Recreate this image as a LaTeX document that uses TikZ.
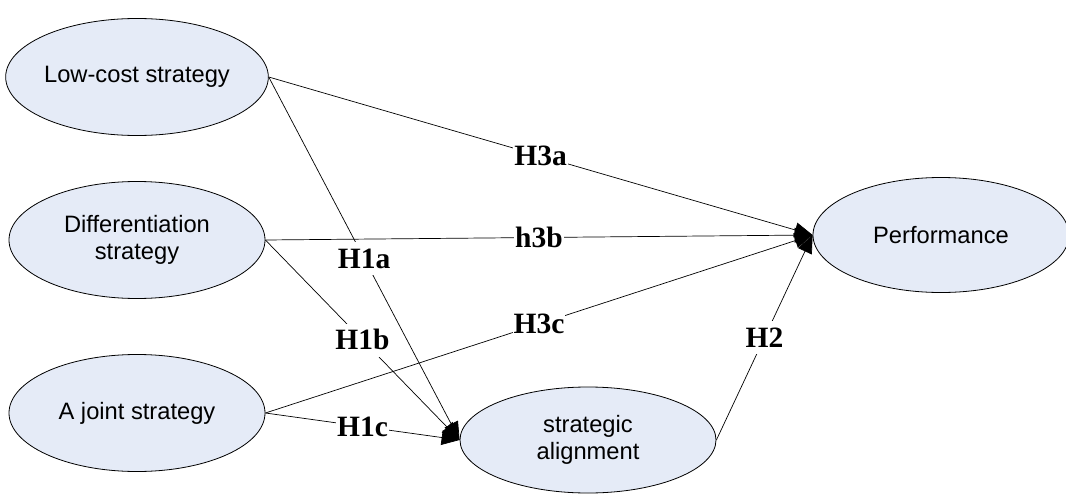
\documentclass[tikz,border=0pt]{standalone}
\usepackage{fontspec}
\newfontfamily\ovalfont{Liberation Sans}
\newfontfamily\hypfont{Liberation Serif}
\usetikzlibrary{arrows.meta,shapes.geometric}
\definecolor{ovalfill}{RGB}{229,235,247}

\begin{document}
\begin{tikzpicture}[x=1pt,y=-1pt,
    construct/.style={ellipse,draw=black,line width=0.8pt,fill=ovalfill,
      minimum width=256pt,minimum height=117pt,inner sep=0pt,align=center,
      font=\ovalfont\fontsize{23.7}{27}\selectfont},
    link/.style={-{Triangle[length=18pt,width=15pt]},line width=0.7pt},
    hyp/.style={fill=white,inner xsep=1pt,inner ysep=0pt,text height=26pt,
      text depth=7pt,font=\hypfont\bfseries\fontsize{29.5}{32}\selectfont}]
  \useasboundingbox (0,0) rectangle (1066,495);

  \node[construct] (low) at (137,77) {Low-cost strategy};
  \node[construct] (diff) at (137,240) {Differentiation\\strategy};
  \node[construct] (joint) at (137,413) {A joint strategy};
  \node[construct,minimum height=115pt] (perf) at (941,235) {Performance};
  \node[construct,minimum height=106pt] (align) at (588,440) {strategic\\alignment};

  \draw[link] (low.east) -- node[hyp] (h3a) {H3a} (perf.west);
  \draw[link] (diff.east) -- node[hyp] (h3b) {h3b} (perf.west);
  \draw[link] (joint.east) -- node[hyp] (h3c) {H3c} (perf.west);
  \draw[link] (low.east) -- node[hyp] (h1a) {H1a} (align.west);
  \draw[link] (diff.east) -- node[hyp] (h1b) {H1b} (align.west);
  \draw[link] (joint.east) -- node[hyp] (h1c) {H1c} (align.west);
  \draw[link] (align.east) -- node[hyp] (h2) {H2} (perf.west);
\end{tikzpicture}
\end{document}
